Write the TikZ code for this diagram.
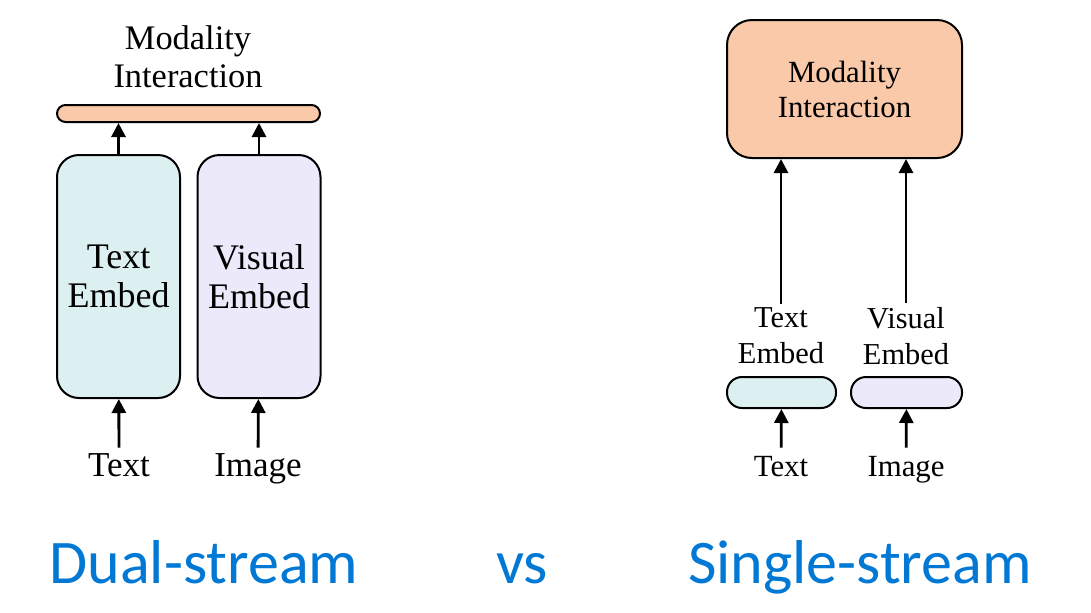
\documentclass[tikz,border=0pt]{standalone}
\usepackage{fontspec}
\setmainfont{Liberation Serif}
\newfontfamily\titlefont{Carlito}
\usepackage{tikz}
\usetikzlibrary{arrows.meta,positioning,calc}
\definecolor{peach}{RGB}{249,201,169}
\definecolor{paleteal}{RGB}{221,240,241}
\definecolor{palelav}{RGB}{236,234,250}
\definecolor{msblue}{RGB}{0,120,212}

\begin{document}
\begin{tikzpicture}[x=0.5pt, y=-0.5pt,
  arr/.style = {-{Triangle[length=7pt,width=7pt]}, line width=1.4pt},
  embbox/.style = {draw, line width=1pt, rounded corners=11pt,
                   minimum width=61.5pt, minimum height=121.5pt, align=center,
                   font=\fontsize{18}{19.5}\selectfont},
  pill/.style = {draw, line width=1pt, rounded corners=7.5pt,
                 minimum height=15.5pt, inner sep=0pt},
  lbl/.style = {align=center, font=\fontsize{15.2}{18}\selectfont, inner sep=2pt},
  inlbl/.style = {lbl, anchor=base, font=\fontsize{17.5}{18}\selectfont,
                  text height=12pt, text depth=4pt},
  title/.style = {anchor=base, text=msblue, font=\titlefont\fontsize{31}{36}\selectfont},
]
\useasboundingbox (0,0) rectangle (1091,612);

% Dual-stream column
\node[lbl, font=\fontsize{17.2}{19}\selectfont] (dualmi) at (188,57) {Modality\\Interaction};
\node[pill, fill=peach, minimum width=131.5pt, minimum height=8.5pt,
      rounded corners=4.25pt] (bar) at (188.5,113.5) {};
\node[embbox, fill=paleteal] (dualtext) at (118.5,276.5) {Text\\Embed};
\node[embbox, fill=palelav] (dualvis) at (259,276.5) {Visual\\Embed};
\node[inlbl] (dualin1) at (119,476) {Text};
\node[inlbl] (dualin2) at (258,476) {Image};

% Single-stream column
\node[draw, line width=1pt, fill=peach, rounded corners=12.5pt,
      minimum width=117.5pt, minimum height=69pt, align=center,
      font=\fontsize{15.4}{17.5}\selectfont] (singmi) at (844.5,89) {Modality\\Interaction};
\node[lbl] (singtext) at (781,336) {Text\\Embed};
\node[lbl] (singvis) at (906,336) {Visual\\Embed};
\node[pill, fill=paleteal, minimum width=54.5pt] (pilltext) at (781.5,392.5) {};
\node[pill, fill=palelav, minimum width=55.5pt] (pillvis) at (906.5,392.5) {};
\node[inlbl, font=\fontsize{15.4}{18}\selectfont] (singin1) at (781,476) {Text};
\node[inlbl, font=\fontsize{15.4}{18}\selectfont] (singin2) at (906,476) {Image};

% Arrows
\draw[arr] (dualin1) -- (dualtext);
\draw[arr] (dualin2) -- (dualvis);
\draw[arr] (dualtext.north) -- (dualtext.north |- bar.south);
\draw[arr] (dualvis.north) -- (dualvis.north |- bar.south);
\draw[arr] (singin1) -- (pilltext);
\draw[arr] (singin2) -- (pillvis);
\draw[arr] (singtext.north) -- (singtext.north |- singmi.south);
\draw[arr] (singvis.north) -- (singvis.north |- singmi.south);

% Titles
\node[title] (dualtitle) at (204,583) {Dual-stream};
\node[title] (vstitle) at (522,583) {vs};
\node[title] (singtitle) at (860,583) {Single-stream};
\end{tikzpicture}
\end{document}
